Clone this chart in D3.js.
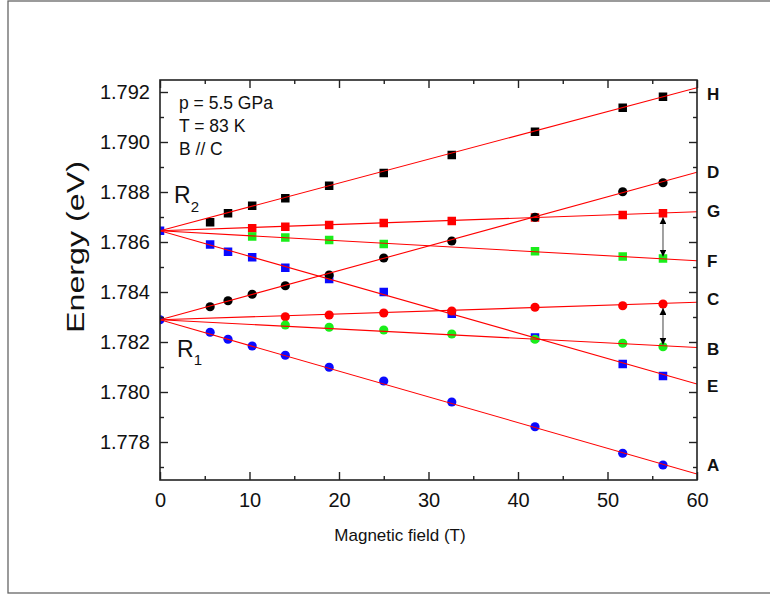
<!DOCTYPE html>
<html>
<head>
<meta charset="utf-8">
<script src="https://cdn.jsdelivr.net/npm/d3@7"></script>
<style>
  html, body { margin: 0; padding: 0; background: #fff; }
  svg { display: block; font-family: "Liberation Sans", Arial, sans-serif; }
</style>
</head>
<body>
<svg id="chart" width="770" height="599"></svg>
<script>
// ---- data ----
const fields = [0, 5.6, 7.6, 10.3, 14.0, 18.9, 25.0, 32.6, 41.9, 51.7, 56.2];

const seriesE = [1.78645, 1.78590, 1.78561, 1.78539, 1.78497, 1.78452, 1.78400, 1.78313, 1.78218, 1.78112, 1.78064];
const seriesA = [1.78289, 1.78239, 1.78211, 1.78184, 1.78147, 1.78099, 1.78044, 1.77960, 1.77861, 1.77755, 1.77708];
const seriesG = [null, null, null, 1.78655, 1.78661, 1.78668, 1.78676, 1.78684, 1.78698, 1.78708, 1.78715];
const seriesF = [null, null, null, 1.78622, 1.78618, 1.78608, 1.78592, null, 1.78563, 1.78542, 1.78534];
const seriesH = [null, 1.78679, 1.78715, 1.78745, 1.78775, 1.78825, 1.78876, 1.78948, 1.79041, 1.79137, 1.79181];
const seriesC = [null, null, null, null, 1.78301, 1.78308, 1.78316, 1.78324, 1.78339, 1.78345, 1.78352];
const seriesB = [null, null, null, null, 1.78268, 1.78259, 1.78248, 1.78232, 1.78211, 1.78195, 1.78181];
const seriesD = [null, 1.78341, 1.78365, 1.78391, 1.78425, 1.78468, 1.78536, 1.78604, 1.78699, 1.78801, 1.78837];

// fit lines: energy at B = 0 T and at B = 60 T
const fitFields = [0, 60];
const fitH = [1.78645, 1.79217];
const fitD = [1.78289, 1.78879];
const fitG = [1.78645, 1.78721];
const fitF = [1.78645, 1.78525];
const fitE = [1.78645, 1.78032];
const fitC = [1.78289, 1.78359];
const fitB = [1.78289, 1.78178];
const fitA = [1.78289, 1.77672];

const branchNames = ["H", "D", "G", "F", "C", "B", "E", "A"];
const branchLabelEnergy = [1.79192, 1.78880, 1.78724, 1.78526, 1.78372, 1.78172, 1.78024, 1.77708];

const xTicks = [0, 10, 20, 30, 40, 50, 60];
const xMinorTicks = [5, 15, 25, 35, 45, 55];
const yTicks = [1.778, 1.780, 1.782, 1.784, 1.786, 1.788, 1.790, 1.792];
const yMinorTicks = [1.777, 1.779, 1.781, 1.783, 1.785, 1.787, 1.789, 1.791];

const arrowField = 56.2;
const arrowPairs = [[1.78715, 1.78534], [1.78352, 1.78181]];

// ---- layout ----
const svg = d3.select("#chart");
const L = 160, R = 697, T = 80, Bm = 480;
const x = d3.scaleLinear().domain([0, 60]).range([L, R]);
const y = d3.scaleLinear().domain([1.77648, 1.79248]).range([Bm, T]);

// outer frame
svg.append("rect").attr("x", 8).attr("y", 1).attr("width", 800).attr("height", 592)
  .attr("fill", "none").attr("stroke", "#666").attr("stroke-width", 1.3);

svg.append("defs").append("clipPath").attr("id", "plotclip")
  .append("rect").attr("x", L).attr("y", T).attr("width", R - L).attr("height", Bm - T);

const plot = svg.append("g").attr("clip-path", "url(#plotclip)");

const RED = "#ff0000", BLUE = "#0a0aff", GREEN = "#1aee1a", BLACK = "#000";

function markers(vals, shape, color) {
  const pts = fields.map((f, i) => [f, vals[i]]).filter(d => d[1] !== null);
  if (shape === "square") {
    const s = 8.5;
    plot.append("g").selectAll("rect").data(pts).join("rect")
      .attr("x", d => x(d[0]) - s / 2).attr("y", d => y(d[1]) - s / 2)
      .attr("width", s).attr("height", s).attr("fill", color);
  } else {
    plot.append("g").selectAll("circle").data(pts).join("circle")
      .attr("cx", d => x(d[0])).attr("cy", d => y(d[1])).attr("r", 4.6).attr("fill", color);
  }
}

markers(seriesE, "square", BLUE);
markers(seriesA, "circle", BLUE);
markers(seriesG, "square", RED);
markers(seriesF, "square", GREEN);
markers(seriesH, "square", BLACK);
markers(seriesC, "circle", RED);
markers(seriesB, "circle", GREEN);
markers(seriesD, "circle", BLACK);

// fit lines
const fits = [fitH, fitD, fitG, fitF, fitE, fitC, fitB, fitA];
const line = d3.line().x(d => x(d[0])).y(d => y(d[1]));
fits.forEach(f => {
  plot.append("path").datum(fitFields.map((b, i) => [b, f[i]]))
    .attr("d", line).attr("fill", "none").attr("stroke", RED).attr("stroke-width", 1.1);
});

// arrows
const defs = svg.select("defs");
defs.append("marker").attr("id", "ah").attr("viewBox", "0 0 10 10").attr("refX", 10).attr("refY", 5)
  .attr("markerWidth", 7).attr("markerHeight", 7).attr("markerUnits", "userSpaceOnUse")
  .attr("orient", "auto-start-reverse")
  .append("path").attr("d", "M0,0 L10,5 L0,10 Z").attr("fill", "#000");
arrowPairs.forEach(p => {
  svg.append("line")
    .attr("x1", x(arrowField)).attr("x2", x(arrowField))
    .attr("y1", y(p[0]) + 4).attr("y2", y(p[1]) - 2)
    .attr("stroke", "#444").attr("stroke-width", 1)
    .attr("marker-start", "url(#ah)").attr("marker-end", "url(#ah)");
});

// axes
const axisColor = "#222";
function styleAxis(g) {
  g.select(".domain").remove();
  g.selectAll(".tick line").attr("stroke", axisColor).attr("stroke-width", 1.4);
  g.selectAll(".tick text").attr("fill", "#111").style("font-size", "20px")
    .style("font-family", "'Liberation Sans', Arial, sans-serif");
}
svg.append("g").attr("transform", `translate(0,${Bm})`)
  .call(d3.axisBottom(x).tickValues(xTicks).tickSize(-8).tickPadding(13).tickFormat(d3.format("d")))
  .call(styleAxis);
svg.append("g").attr("transform", `translate(0,${Bm})`)
  .call(d3.axisBottom(x).tickValues(xMinorTicks).tickSize(-4).tickFormat(""))
  .call(styleAxis);
svg.append("g").attr("transform", `translate(0,${T})`)
  .call(d3.axisTop(x).tickValues(xTicks).tickSize(-8).tickFormat(""))
  .call(styleAxis);
svg.append("g").attr("transform", `translate(0,${T})`)
  .call(d3.axisTop(x).tickValues(xMinorTicks).tickSize(-4).tickFormat(""))
  .call(styleAxis);
svg.append("g").attr("transform", `translate(${L},0)`)
  .call(d3.axisLeft(y).tickValues(yTicks).tickSize(-8).tickPadding(10).tickFormat(d3.format(".3f")))
  .call(styleAxis);
svg.append("g").attr("transform", `translate(${L},0)`)
  .call(d3.axisLeft(y).tickValues(yMinorTicks).tickSize(-4).tickFormat(""))
  .call(styleAxis);
svg.append("g").attr("transform", `translate(${R},0)`)
  .call(d3.axisRight(y).tickValues(yTicks).tickSize(-8).tickFormat(""))
  .call(styleAxis);
svg.append("g").attr("transform", `translate(${R},0)`)
  .call(d3.axisRight(y).tickValues(yMinorTicks).tickSize(-4).tickFormat(""))
  .call(styleAxis);

// frame of plot
svg.append("rect").attr("x", L).attr("y", T).attr("width", R - L).attr("height", Bm - T)
  .attr("fill", "none").attr("stroke", axisColor).attr("stroke-width", 1.6);

// axis titles
svg.append("text").attr("x", 400).attr("y", 541).attr("text-anchor", "middle")
  .style("font-size", "17px").attr("fill", "#111").text("Magnetic field (T)");
svg.append("text").attr("transform", "translate(84,247) rotate(-90)").attr("text-anchor", "middle")
  .attr("textLength", 172).attr("lengthAdjust", "spacingAndGlyphs")
  .style("font-size", "23px").attr("fill", "#111").text("Energy (eV)");

// annotations
const ann = ["p = 5.5 GPa", "T = 83 K", "B // C"];
ann.forEach((t, i) => {
  svg.append("text").attr("x", 179).attr("y", 109 + i * 23).style("font-size", "17.5px")
    .attr("fill", "#111").text(t);
});
const r2 = svg.append("text").attr("x", 174).attr("y", 203).attr("fill", "#111").style("font-size", "23px");
r2.append("tspan").text("R");
r2.append("tspan").attr("dy", 9).style("font-size", "15px").text("2");
const r1 = svg.append("text").attr("x", 177).attr("y", 357).attr("fill", "#111").style("font-size", "23px");
r1.append("tspan").text("R");
r1.append("tspan").attr("dy", 8).style("font-size", "15px").text("1");

// branch labels
branchNames.forEach((n, i) => {
  svg.append("text").attr("x", 707).attr("y", y(branchLabelEnergy[i])).attr("dy", "0.36em")
    .style("font-size", "17px").style("font-weight", "bold").attr("fill", "#111").text(n);
});
</script>
</body>
</html>
